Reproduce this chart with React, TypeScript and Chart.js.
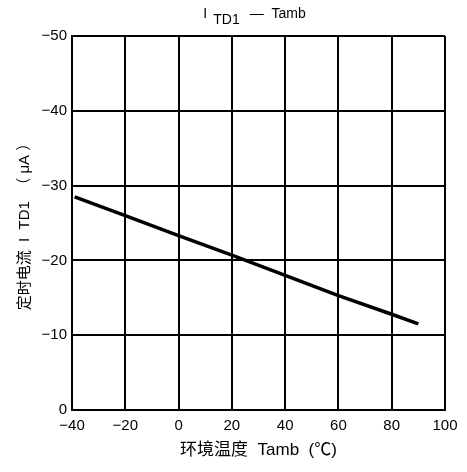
import React, { useEffect, useRef } from "react";
import { Chart, registerables } from "chart.js";

Chart.register(...registerables);

const temperatures = [-39, -20, 0, 20, 40, 60, 80, 90];
const currents = [-28.5, -26, -23.3, -20.7, -18, -15.3, -12.8, -11.5];
const xTicks = [-40, -20, 0, 20, 40, 60, 80, 100];
const yTicks = [-50, -40, -30, -20, -10, 0];
const titleMain = "I";
const titleSub = "TD1";
const titleRest = "—  Tamb";
const xTitle = "环境温度  Tamb  (℃)";
const yTitle = "定时电流  I  TD1  （ μA ）";

const FONT = "'Liberation Sans', 'Noto Sans CJK SC', sans-serif";

const fmt = (v: number) => (v < 0 ? "−" + Math.abs(v) : String(v));

const titlePlugin = {
  id: "subTitle",
  afterDraw(chart: any) {
    const { ctx, chartArea } = chart;
    ctx.save();
    ctx.fillStyle = "#000";
    ctx.textBaseline = "alphabetic";
    ctx.textAlign = "left";
    ctx.font = `14px ${FONT}`;
    const wMain = ctx.measureText(titleMain).width;
    const wSub = ctx.measureText(titleSub).width;
    const wRest = ctx.measureText(titleRest).width;
    const gap1 = 6;
    const gap2 = 10;
    const total = wMain + gap1 + wSub + gap2 + wRest;
    let x = (chartArea.left + chartArea.right) / 2 - total / 2 - 4;
    ctx.fillText(titleMain, x, 18);
    x += wMain + gap1;
    ctx.fillText(titleSub, x, 24);
    x += wSub + gap2;
    ctx.fillText(titleRest, x, 18);
    ctx.restore();
  },
};

export default function App() {
  const ref = useRef<HTMLCanvasElement | null>(null);
  useEffect(() => {
    document.body.style.margin = "0";
    const canvas = ref.current!;
    const chart = new Chart(canvas, {
      type: "line",
      data: {
        datasets: [
          {
            data: temperatures.map((t, i) => ({ x: t, y: currents[i] })),
            borderColor: "#000",
            borderWidth: 3.5,
            pointRadius: 0,
            tension: 0,
          },
        ],
      },
      plugins: [titlePlugin],
      options: {
        animation: false,
        responsive: false,
        layout: { padding: { left: 0, right: 22, top: 36, bottom: 0 } },
        plugins: {
          legend: { display: false },
          tooltip: { enabled: false },
          title: { display: false },
        },
        scales: {
          x: {
            type: "linear",
            min: xTicks[0],
            max: xTicks[xTicks.length - 1],
            afterBuildTicks: (scale: any) => {
              scale.ticks = xTicks.map((v) => ({ value: v }));
            },
            ticks: {
              color: "#000",
              font: { family: FONT, size: 15 },
              padding: 7,
              maxRotation: 0,
              callback: (v: any) => fmt(Number(v)),
            },
            grid: { color: "#000", lineWidth: 2, drawTicks: false },
            border: { color: "#000", width: 2 },
            title: {
              display: true,
              text: xTitle,
              color: "#000",
              font: { family: FONT, size: 17 },
              padding: { top: 6, bottom: 11 },
            },
            afterFit: (scale: any) => {
              scale.height = 62;
            },
          },
          y: {
            type: "linear",
            min: -50,
            max: 0,
            reverse: true,
            afterBuildTicks: (scale: any) => {
              scale.ticks = yTicks.map((v) => ({ value: v }));
            },
            ticks: {
              color: "#000",
              font: { family: FONT, size: 15 },
              padding: 5,
              callback: (v: any) => fmt(Number(v)),
            },
            grid: { color: "#000", lineWidth: 2, drawTicks: false },
            border: { color: "#000", width: 2 },
            title: {
              display: true,
              text: yTitle,
              color: "#000",
              font: { family: FONT, size: 15 },
              padding: { top: 16, bottom: 6 },
            },
            afterFit: (scale: any) => {
              scale.width = 72;
            },
          },
        },
      },
    });
    return () => chart.destroy();
  }, []);
  return (
    <div style={{ position: "absolute", left: 0, top: 0, width: 467, height: 472, background: "#fff" }}>
      <canvas ref={ref} width={467} height={472} />
    </div>
  );
}
